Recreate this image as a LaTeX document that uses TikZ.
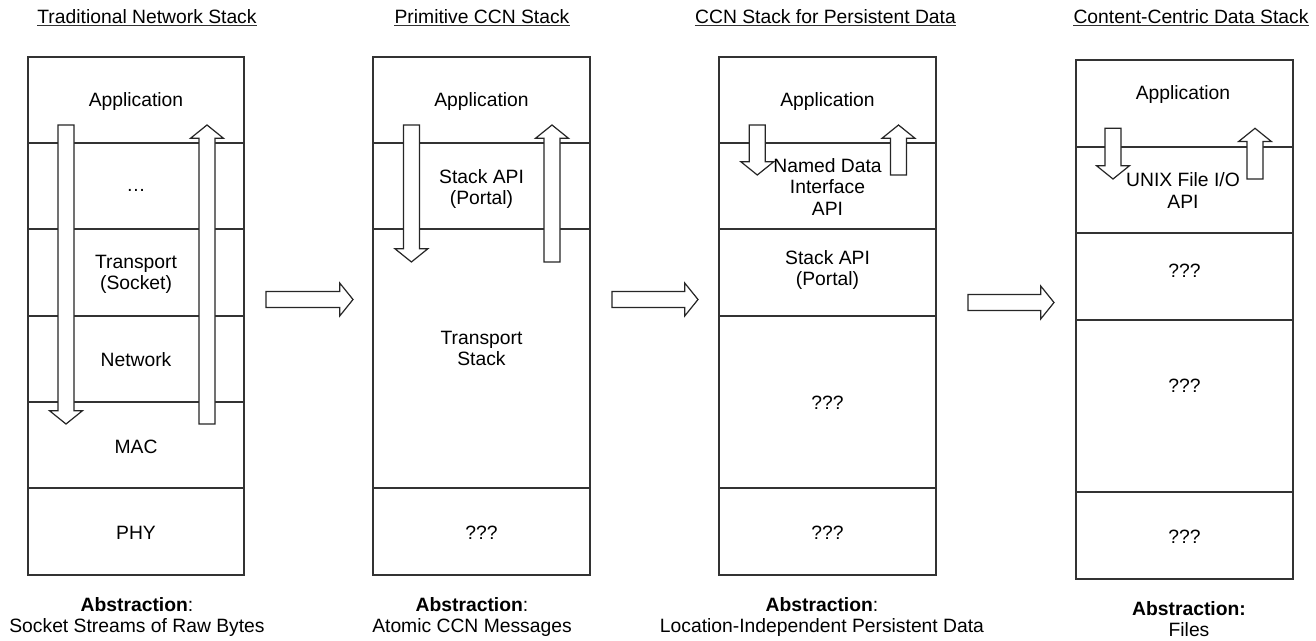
\documentclass[tikz,border=0pt]{standalone}
\usepackage{fontspec}
\setmainfont{Liberation Sans}
\usetikzlibrary{calc}

\tikzset{
  frame/.style={draw=black!80, line width=1.2bp},
  blockarr/.style={draw=black!85, line width=1.2bp, fill=white, line join=miter},
  uline/.style={draw=black!80, line width=1.1bp},
  lbl/.style={inner sep=0pt, anchor=base, font=\fontsize{19.3bp}{21.5bp}\selectfont},
  mlbl/.style={inner sep=0pt, anchor=north, align=center, font=\fontsize{19.3bp}{21.5bp}\selectfont},
}

% Hollow block arrow from coordinate #1 (tail) to coordinate #2 (tip);
% #3 names the centre of the arrow head's base.
\newcommand\blockarrow[3]{%
  \coordinate (#3) at ($(#2)!13.3bp!(#1)$);
  \draw[blockarr]
    ($(#1)!8bp!90:(#2)$) -- ($(#3)!8bp!90:(#2)$) -- ($(#3)!16.5bp!90:(#2)$)
    -- (#2)
    -- ($(#3)!16.5bp!-90:(#2)$) -- ($(#3)!8bp!-90:(#2)$) -- ($(#1)!8bp!-90:(#2)$)
    -- cycle;
}

\begin{document}
\begin{tikzpicture}[x=1bp,y=-1bp]
\fill[white] (0,0) rectangle (1316,641);
\useasboundingbox (0,0) rectangle (1316,641);

% ---- stack frames and layer dividers
\draw[frame] (28,57) rectangle (244,575);
\foreach \y in {143,229,316,402,488} \draw[frame] (28,\y) -- (244,\y);

\draw[frame] (373,57) rectangle (590,575);
\foreach \y in {143,229,488} \draw[frame] (373,\y) -- (590,\y);

\draw[frame] (719,57) rectangle (936,575);
\foreach \y in {143,229,316,488} \draw[frame] (719,\y) -- (936,\y);

\draw[frame] (1076,60) rectangle (1293,579);
\foreach \y in {147,233,320,492} \draw[frame] (1076,\y) -- (1293,\y);

% ---- titles
\node[lbl] (t1) at (147,23.5) {Traditional Network Stack};
\node[lbl] (t2) at (482,23.5) {Primitive CCN Stack};
\node[lbl] (t3) at (825.5,23.5) {CCN Stack for Persistent Data};
\node[lbl] (t4) at (1191,23.5) {Content-Centric Data Stack};
\foreach \t in {t1,t2,t3,t4}
  \draw[uline] ([yshift=-2bp]\t.base west) -- ([yshift=-2bp]\t.base east);

% ---- vertical flow arrows inside the stacks
\coordinate (d1a) at (66,125);     \coordinate (d1b) at (66,424);
\coordinate (u1a) at (207,424);    \coordinate (u1b) at (207,125);
\coordinate (d2a) at (411.4,125);  \coordinate (d2b) at (411.4,262);
\coordinate (u2a) at (552,262);    \coordinate (u2b) at (552,125);
\coordinate (d3a) at (757.3,125);  \coordinate (d3b) at (757.3,175);
\coordinate (u3a) at (898.5,175);  \coordinate (u3b) at (898.5,125);
\coordinate (d4a) at (1113,128.3); \coordinate (d4b) at (1113,179);
\coordinate (u4a) at (1255,179);   \coordinate (u4b) at (1255,128.3);
\blockarrow{d1a}{d1b}{d1h}
\blockarrow{u1a}{u1b}{u1h}
\blockarrow{d2a}{d2b}{d2h}
\blockarrow{u2a}{u2b}{u2h}
\blockarrow{d3a}{d3b}{d3h}
\blockarrow{u3a}{u3b}{u3h}
\blockarrow{d4a}{d4b}{d4h}
\blockarrow{u4a}{u4b}{u4h}

% ---- arrows between the stacks
\coordinate (h1a) at (266,299.5);  \coordinate (h1b) at (353,299.5);
\coordinate (h2a) at (612,299.5);  \coordinate (h2b) at (698,299.5);
\coordinate (h3a) at (968,302.5);  \coordinate (h3b) at (1054,302.5);
\blockarrow{h1a}{h1b}{h1h}
\blockarrow{h2a}{h2b}{h2h}
\blockarrow{h3a}{h3b}{h3h}

% ---- traditional network stack
\node[lbl]  (s1app)   at (136,107) {Application};
\node[lbl]  (s1dots)  at (136,192) {…};
\node[mlbl] (s1trans) at (136,255) {Transport\\(Socket)};
\node[lbl]  (s1net)   at (136,366) {Network};
\node[lbl]  (s1mac)   at (136,453) {MAC};
\node[lbl]  (s1phy)   at (136,539) {PHY};
\node[mlbl] (s1abs)   at (137,597) {\textbf{Abstraction}:\\Socket Streams of Raw Bytes};

% ---- primitive CCN stack
\node[lbl]  (s2app)   at (481.5,107) {Application};
\node[mlbl] (s2api)   at (481.5,169) {Stack API\\(Portal)};
\node[mlbl] (s2trans) at (481.5,331) {Transport\\Stack};
\node[lbl]  (s2q)     at (481.5,539) {???};
\node[mlbl] (s2abs)   at (472,597) {\textbf{Abstraction}:\\Atomic CCN Messages};

% ---- CCN stack for persistent data
\node[lbl]  (s3app)   at (827.5,107) {Application};
\node[mlbl] (s3ndi)   at (827.5,158) {Named Data\\Interface\\API};
\node[mlbl] (s3api)   at (827.5,250) {Stack API\\(Portal)};
\node[lbl]  (s3q1)    at (827.5,409) {???};
\node[lbl]  (s3q2)    at (827.5,539) {???};
\node[mlbl] (s3abs)   at (822,597) {\textbf{Abstraction}:\\Location-Independent Persistent Data};

% ---- content-centric data stack
\node[lbl]  (s4app)   at (1183,100) {Application};
\node[mlbl] (s4unix)  at (1183,172.5) {UNIX File I/O\\API};
\node[lbl]  (s4q1)    at (1184.5,277) {???};
\node[lbl]  (s4q2)    at (1184.5,392) {???};
\node[lbl]  (s4q3)    at (1184.5,543) {???};
\node[mlbl] (s4abs)   at (1189,601) {\textbf{Abstraction:}\\Files};
\end{tikzpicture}
\end{document}
